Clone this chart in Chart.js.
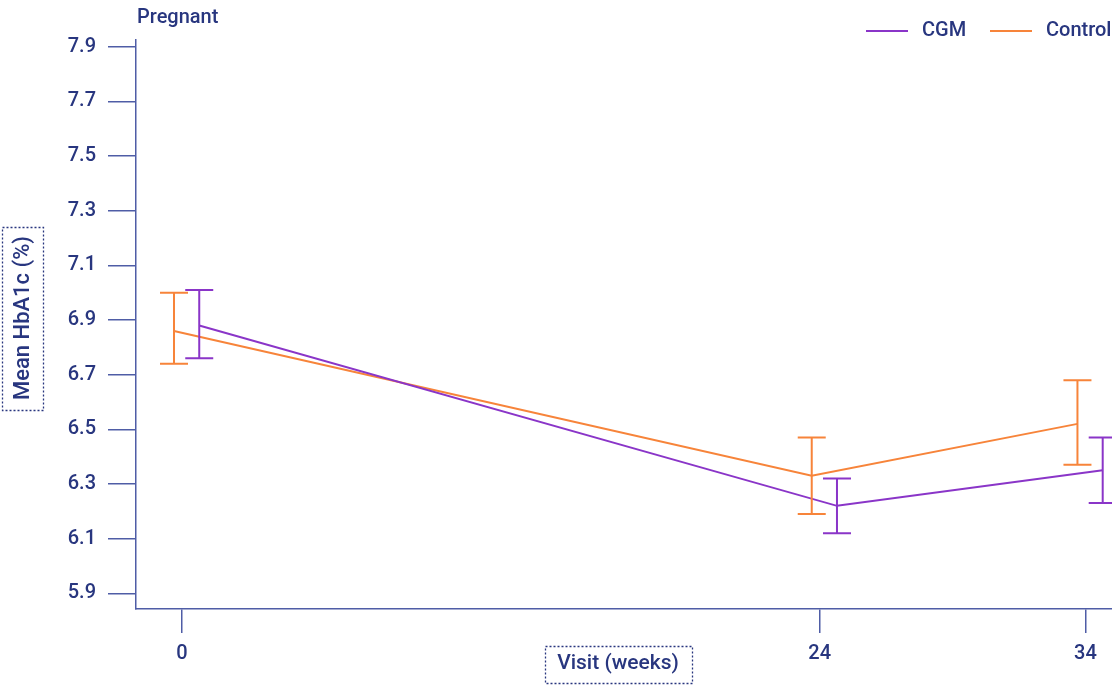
<!DOCTYPE html>
<html>
<head>
<meta charset="utf-8">
<script src="https://cdn.jsdelivr.net/npm/chart.js@4.4.1/dist/chart.umd.min.js"></script>
<style>
	body{margin:0;background:#fff;}
	#wrap{position:relative;width:1112px;height:685px;}
</style>
</head>
<body>
<div id="wrap"><canvas id="hba1c_chart"></canvas></div>
<script>
// visit weeks and mean HbA1c with error bar ends
let weeks = [0, 24, 34];
let weekLabels = ['0', '24', '34'];
let yTicks = [5.9, 6.1, 6.3, 6.5, 6.7, 6.9, 7.1, 7.3, 7.5, 7.7, 7.9];

let cgmMean = [6.88, 6.22, 6.35];
let cgmLow = [6.76, 6.12, 6.23];
let cgmHigh = [7.01, 6.32, 6.47];

let controlMean = [6.86, 6.33, 6.52];
let controlLow = [6.74, 6.19, 6.37];
let controlHigh = [7.00, 6.47, 6.68];

let navy = '#28367f';
let axisColor = '#4f5da6';
let purple = '#8a35c8';
let orange = '#f7843a';
let fontFamily = 'Roboto, "Noto Sans", sans-serif';

// small horizontal dodge so the two groups don't overlap
let cgmShift = 0.65;
let controlShift = -0.3;

function makePoints(mean, shift){
	let pts = [];
	for(let i = 0; i < weeks.length; i++){
		pts.push({x: weeks[i] + shift, y: mean[i]});
	}
	return pts;
}

let datasets = [{
	label: 'CGM',
	data: makePoints(cgmMean, cgmShift),
	borderColor: purple,
	borderWidth: 2,
	pointRadius: 0,
	low: cgmLow,
	high: cgmHigh,
	shift: cgmShift
},{
	label: 'Control',
	data: makePoints(controlMean, controlShift),
	borderColor: orange,
	borderWidth: 2,
	pointRadius: 0,
	low: controlLow,
	high: controlHigh,
	shift: controlShift
}];

// vertical error bars with caps
let errorBars = {
	id: 'errorBars',
	afterDatasetsDraw(chart){
		let ctx = chart.ctx;
		let xs = chart.scales.x, ys = chart.scales.y;
		ctx.save();
		chart.data.datasets.forEach(function(ds){
			ctx.strokeStyle = ds.borderColor;
			ctx.lineWidth = 2;
			for(let i = 0; i < weeks.length; i++){
				let px = xs.getPixelForValue(weeks[i] + ds.shift);
				let top = ys.getPixelForValue(ds.high[i]);
				let bot = ys.getPixelForValue(ds.low[i]);
				ctx.beginPath();
				ctx.moveTo(px, top); ctx.lineTo(px, bot);
				ctx.moveTo(px - 14, top); ctx.lineTo(px + 14, top);
				ctx.moveTo(px - 14, bot); ctx.lineTo(px + 14, bot);
				ctx.stroke();
			}
		});
		ctx.restore();
	}
};

function dottedBox(ctx, x, y, w, h){
	ctx.save();
	ctx.strokeStyle = navy;
	ctx.lineWidth = 1.3;
	ctx.setLineDash([2, 2]);
	ctx.strokeRect(x, y, w, h);
	ctx.restore();
}

// title, legend and boxed axis titles
let decorations = {
	id: 'decorations',
	afterDraw(chart){
		let ctx = chart.ctx;
		ctx.save();
		ctx.fillStyle = navy;
		ctx.font = '500 20px ' + fontFamily;
		ctx.textBaseline = 'middle';
		ctx.textAlign = 'left';
		ctx.fillText('Pregnant', 137, 18);

		// legend
		let items = [[866, 'CGM', purple], [990, 'Control', orange]];
		items.forEach(function(it){
			ctx.strokeStyle = it[2];
			ctx.lineWidth = 2;
			ctx.beginPath();
			ctx.moveTo(it[0], 31); ctx.lineTo(it[0] + 42, 31);
			ctx.stroke();
			ctx.fillText(it[1], it[0] + 56, 31);
		});

		// x axis title
		ctx.font = '500 21px ' + fontFamily;
		ctx.textAlign = 'center';
		ctx.fillText('Visit (weeks)', 618, 664);
		dottedBox(ctx, 545.5, 646.5, 147, 37);

		// y axis title
		ctx.font = '500 22px ' + fontFamily;
		ctx.save();
		ctx.translate(23, 318);
		ctx.rotate(-Math.PI / 2);
		ctx.fillText('Mean HbA1c (%)', 0, 0);
		ctx.restore();
		dottedBox(ctx, 2.5, 227.5, 41, 183);
		ctx.restore();
	}
};

let ctx = document.getElementById('hba1c_chart').getContext('2d');
let hba1cChart = new Chart(ctx, {
	type: 'line',
	data: {datasets: datasets},
	plugins: [errorBars, decorations],
	options: {
		responsive: true,
		maintainAspectRatio: false,
		animation: false,
		layout: {padding: {top: 40, right: 0, left: 0, bottom: 0}},
		plugins: {legend: {display: false}, tooltip: {enabled: false}},
		scales: {
			x: {
				type: 'linear',
				min: -1.73,
				max: 35,
				afterBuildTicks: function(scale){
					scale.ticks = weeks.map(function(w){ return {value: w}; });
				},
				afterFit: function(scale){ scale.height = 76; },
				grid: {drawOnChartArea: false, drawTicks: true, tickLength: 24, color: axisColor, lineWidth: 1.5},
				border: {color: axisColor, width: 1.5},
				ticks: {
					color: navy,
					font: {family: fontFamily, size: 20, weight: '500'},
					padding: 9,
					maxRotation: 0,
					callback: function(v){ return weekLabels[weeks.indexOf(v)]; }
				}
			},
			y: {
				min: 5.8426,
				max: 7.9245,
				afterBuildTicks: function(scale){
					scale.ticks = yTicks.map(function(t){ return {value: t}; });
				},
				afterFit: function(scale){ scale.width = 136; },
				grid: {drawOnChartArea: false, drawTicks: true, tickLength: 28, color: axisColor, lineWidth: 1.5},
				border: {color: axisColor, width: 1.5},
				ticks: {
					color: navy,
					font: {family: fontFamily, size: 20, weight: '500'},
					padding: 12,
					callback: function(v){ return v.toFixed(1); }
				}
			}
		}
	}
});
</script>
</body>
</html>
